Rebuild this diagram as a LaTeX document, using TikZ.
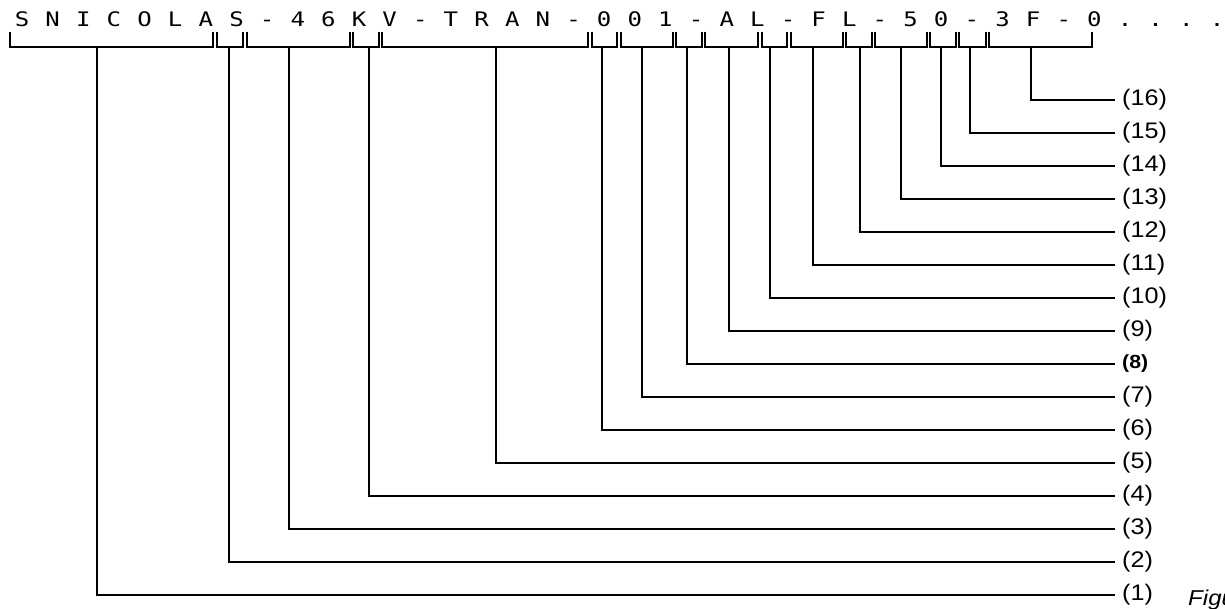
\documentclass[tikz,border=0pt]{standalone}
\usepackage{fontspec}
\newfontfamily\codefont[FakeStretch=1.2]{DejaVu Sans Mono}
\newfontfamily\labfont[FakeStretch=1.12]{Liberation Sans}
\begin{document}
\begin{tikzpicture}[x=1pt,y=-1pt,
  wire/.style={line width=1.8pt, draw=black},
  lab/.style={inner xsep=7pt, inner ysep=0pt, anchor=west, font=\labfont\fontsize{22.5}{25}\selectfont},
  labbold/.style={inner xsep=7pt, inner ysep=0pt, anchor=west, font=\labfont\bfseries\fontsize{19}{22}\selectfont},
  codechar/.style={inner sep=0pt, anchor=base, font=\codefont\fontsize{20}{24}\selectfont}]
\useasboundingbox (0,0) rectangle (1225,608);
\foreach \ch [count=\i from 0] in {S,N,I,C,O,L,A,S,-,4,6,K,V,-,T,R,A,N,-,0,0,1,-,A,L,-,F,L,-,5,0,-,3,F,-,0,.,.,.,.} {
  \node[codechar] (c\i) at ({22+30.64*\i},26.5) {\ch};
}
\foreach \k/\l/\r/\d/\s in {1/10/213.3/97.3/lab, 2/217.3/242.7/228.7/lab, 3/246.7/350/288.7/lab, 4/353.3/379/369.3/lab, 5/382.3/588.3/496/lab, 6/591.7/616.7/602/lab, 7/620.7/672.7/641.7/lab, 8/676/701.7/687.3/labbold, 9/705.3/758.3/729.3/lab, 10/761.7/786.7/770/lab, 11/790.7/842.7/813.3/lab, 12/846/871.7/860/lab, 13/875/926.7/901/lab, 14/930/956/940.7/lab, 15/959.3/986/970/lab, 16/989.3/1091.7/1030.7/lab} {
  \coordinate (tl\k) at (\l,31.7);
  \coordinate (tr\k) at (\r,31.7);
  \draw[wire] (tl\k) -- (\l,47) -- (\r,47) -- (tr\k);
  \node[\s] (lab\k) at (1115,{595-33*(\k-1)}) {(\k)};
  \coordinate (d\k) at (\d,47);
  \draw[wire] (d\k) |- (lab\k.west);
}
\node[inner sep=0pt, anchor=base west, font=\labfont\itshape\fontsize{21.5}{24}\selectfont] (fig) at (1188,605) {Figu};
\end{tikzpicture}
\end{document}
